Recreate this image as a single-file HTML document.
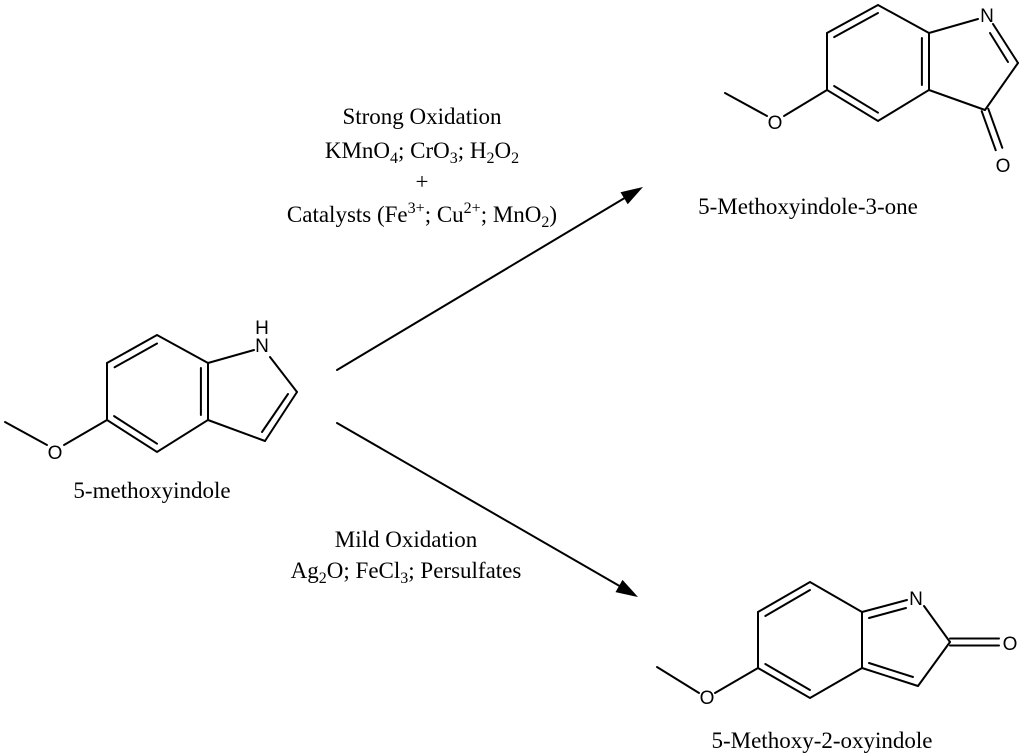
<!DOCTYPE html>
<html><head><meta charset="utf-8"><style>html,body{margin:0;padding:0;background:#fff}svg{display:block}</style></head>
<body>
<svg width="1024" height="756" viewBox="0 0 1024 756" xmlns="http://www.w3.org/2000/svg">
<g stroke="#000" stroke-width="2" fill="none" stroke-linecap="round">
<polyline points="208,363 157,335 107,363 107,420 157,452 208,420 208,363"/>
<line x1="157" y1="343.5" x2="114.6" y2="367.3"/>
<line x1="114.1" y1="416.1" x2="157" y2="443.7"/>
<line x1="200.9" y1="368" x2="200.9" y2="415"/>
<line x1="208" y1="363" x2="254" y2="350"/>
<line x1="270" y1="357" x2="297" y2="392"/>
<line x1="297" y1="392" x2="265" y2="441"/>
<line x1="288" y1="394" x2="262" y2="432"/>
<line x1="265" y1="441" x2="208" y2="420"/>
<line x1="107" y1="420" x2="64" y2="445"/>
<line x1="47" y1="445" x2="5" y2="422"/>
<polyline points="929,33 878,5 827,33 827,90 878,121 929,90 929,33"/>
<line x1="878" y1="13" x2="834.1" y2="37.1"/>
<line x1="834.1" y1="86" x2="878" y2="112.7"/>
<line x1="921.9" y1="38" x2="921.9" y2="85"/>
<line x1="929" y1="33" x2="978" y2="19"/>
<line x1="993" y1="24" x2="1018" y2="63"/>
<line x1="990" y1="33" x2="1008" y2="62"/>
<line x1="1018" y1="63" x2="985" y2="110"/>
<line x1="985" y1="110" x2="929" y2="90"/>
<line x1="981.7" y1="111.2" x2="995.7" y2="150.2"/>
<line x1="988.3" y1="108.8" x2="1002.3" y2="147.8"/>
<line x1="827" y1="90" x2="784" y2="116"/>
<line x1="767" y1="116" x2="725" y2="93"/>
<polyline points="862,612 810,582 758,612 758,668 810,698 862,668 862,612"/>
<line x1="810" y1="590" x2="765.3" y2="616"/>
<line x1="765.3" y1="664" x2="810" y2="690"/>
<line x1="862" y1="612" x2="907" y2="600"/>
<line x1="869" y1="618" x2="906" y2="608"/>
<line x1="924" y1="606" x2="950" y2="642"/>
<line x1="950" y1="642" x2="918" y2="686"/>
<line x1="918" y1="686" x2="862" y2="668"/>
<line x1="869" y1="663" x2="913" y2="677"/>
<line x1="950" y1="638.5" x2="999" y2="638.5"/>
<line x1="950" y1="645.5" x2="999" y2="645.5"/>
<line x1="758" y1="668" x2="715" y2="693"/>
<line x1="699" y1="693" x2="657" y2="667"/>
<line x1="337" y1="370" x2="628" y2="196"/>
<line x1="337" y1="423" x2="623" y2="588"/>
</g>
<polygon points="643,187 620.5,192.3 627.7,204.3" fill="#000"/>
<polygon points="638,597 622.5,579.9 615.5,592.1" fill="#000"/>
<g font-family="Liberation Sans, sans-serif" font-size="19" text-anchor="middle" fill="#000">
<text x="262" y="352">N</text>
<text x="262" y="334">H</text>
<text x="55" y="459">O</text>
<text x="987" y="22">N</text>
<text x="1003" y="172">O</text>
<text x="775" y="129">O</text>
<text x="916" y="605">N</text>
<text x="1010" y="650">O</text>
<text x="707" y="704">O</text>
</g>
<g font-family="Liberation Serif, serif" font-size="23" text-anchor="middle" fill="#000">
<text x="152" y="498">5-methoxyindole</text>
<text x="808" y="214">5-Methoxyindole-3-one</text>
<text x="822" y="748">5-Methoxy-2-oxyindole</text>
<text x="422" y="124">Strong Oxidation</text>
<text x="422" y="158">KMnO<tspan font-size="16" dy="5">4</tspan><tspan dy="-5">; CrO</tspan><tspan font-size="16" dy="5">3</tspan><tspan dy="-5">; H</tspan><tspan font-size="16" dy="5">2</tspan><tspan dy="-5">O</tspan><tspan font-size="16" dy="5">2</tspan></text>
<text x="422" y="189">+</text>
<text x="422" y="222">Catalysts (Fe<tspan font-size="16" dy="-9">3+</tspan><tspan dy="9">; Cu</tspan><tspan font-size="16" dy="-9">2+</tspan><tspan dy="9">; MnO</tspan><tspan font-size="16" dy="5">2</tspan><tspan dy="-5">)</tspan></text>
<text x="406" y="547">Mild Oxidation</text>
<text x="406" y="578">Ag<tspan font-size="16" dy="5">2</tspan><tspan dy="-5">O; FeCl</tspan><tspan font-size="16" dy="5">3</tspan><tspan dy="-5">; Persulfates</tspan></text>
</g>
</svg>
</body></html>
